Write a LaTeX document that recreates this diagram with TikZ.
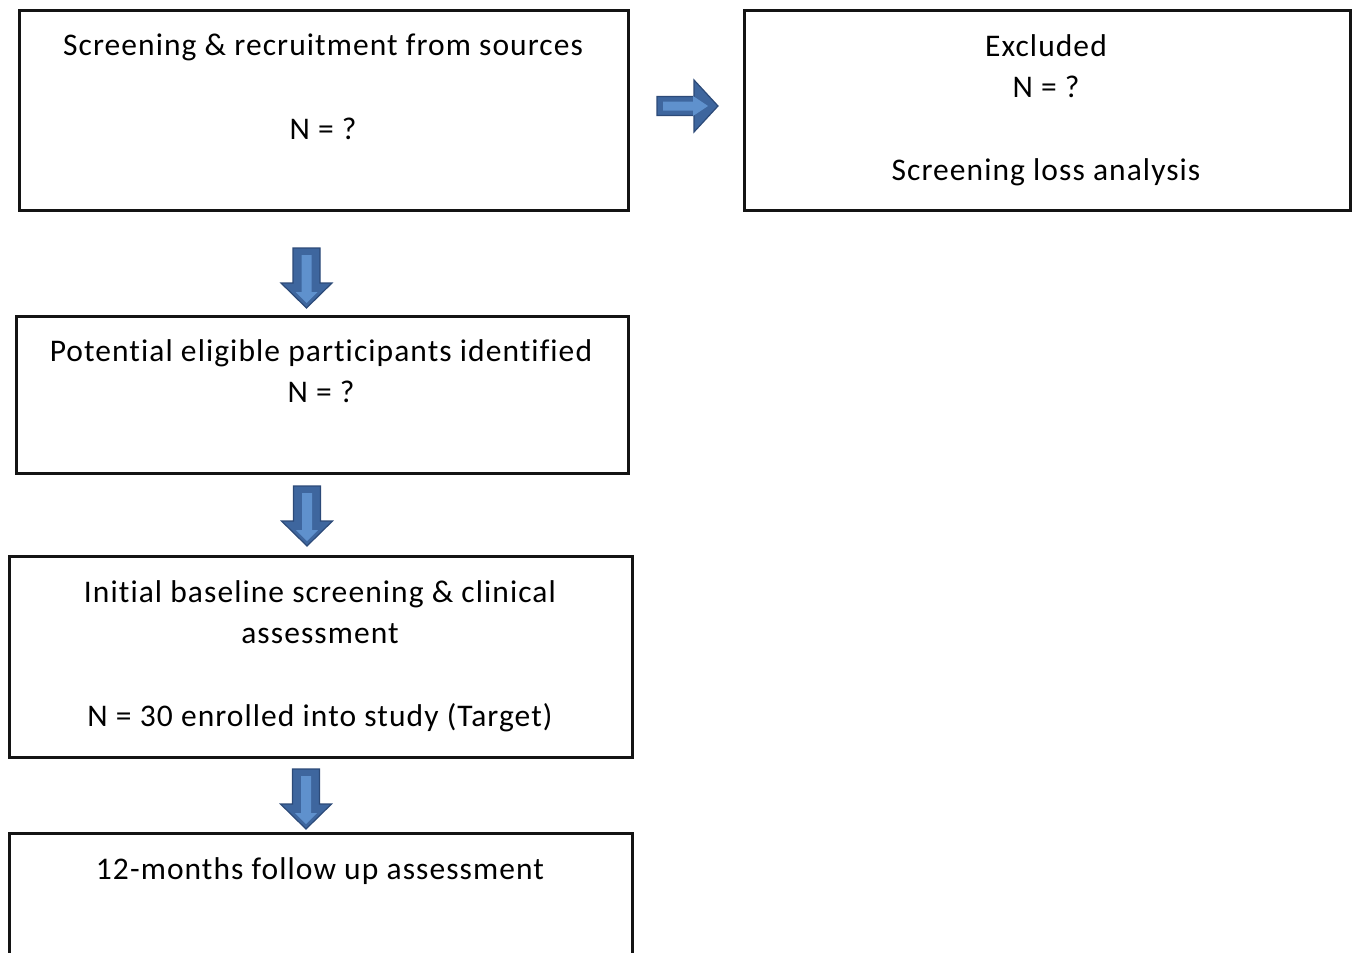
\documentclass[tikz,border=0pt]{standalone}
\usepackage{fontspec}
\setmainfont{Carlito}[Ligatures={NoCommon}, LetterSpace=3.4]
\definecolor{arrowdark}{RGB}{44,74,120}
\definecolor{arrowmid}{RGB}{62,102,158}
\definecolor{arrowlight}{RGB}{95,145,205}
\definecolor{boxline}{RGB}{20,20,20}
\tikzset{
  x=1pt, y=-1pt,
  box/.style={draw=boxline, line width=3pt, fill=white, rectangle, inner sep=0pt},
  txt/.style={font=\fontsize{31.5}{41}\selectfont, anchor=base, inner sep=0pt, text=black},
  rarrow/.pic={
    \fill[arrowmid, draw=arrowdark, line width=1.2pt]
      (0,-9.5) -- (37,-9.5) -- (37,-26) -- (61,0) -- (37,26) -- (37,9.5) -- (0,9.5) -- cycle;
    \fill[arrowlight]
      (6,-4.5) -- (36,-4.5) -- (36,-10) -- (51,0) -- (36,10) -- (36,4.5) -- (6,4.5) -- cycle;
  },
  darrow/.pic={
    \fill[arrowmid, draw=arrowdark, line width=1.2pt]
      (0,-13.5) -- (35,-13.5) -- (35,-25.5) -- (60,0) -- (35,25.5) -- (35,13.5) -- (0,13.5) -- cycle;
    \fill[arrowlight]
      (7,-5) -- (44,-5) -- (44,-11) -- (55,0) -- (44,11) -- (44,5) -- (7,5) -- cycle;
  }
}
\begin{document}
\begin{tikzpicture}
\useasboundingbox (0,0) rectangle (1352,953);
\clip (0,0) rectangle (1352,953);
% boxes
\node[box, minimum width=609pt, minimum height=200pt] (b1) at (323.5,110) {};
\node[box, minimum width=606pt, minimum height=200pt] (b2) at (1047,110) {};
\node[box, minimum width=612pt, minimum height=157pt] (b3) at (322,394.5) {};
\node[box, minimum width=623pt, minimum height=201pt] (b4) at (320.5,656.5) {};
\node[box, minimum width=623pt, minimum height=180pt] (b5) at (320.5,923) {};
% texts
\node[txt] (t1a) at (323,55) {Screening \& recruitment from sources};
\node[txt] (t1b) at (323,139) {N = ?};
\node[txt] (t2a) at (1046,56) {Excluded};
\node[txt] (t2b) at (1046,97) {N = ?};
\node[txt] (t2c) at (1046,180) {Screening loss analysis};
\node[txt] (t3a) at (321,361) {Potential eligible participants identified};
\node[txt] (t3b) at (321,402) {N = ?};
\node[txt] (t4a) at (320,602) {Initial baseline screening \& clinical};
\node[txt] (t4b) at (320,643) {assessment};
\node[txt] (t4c) at (320,726) {N = 30 enrolled into study (Target)};
\node[txt] (t5a) at (320,879) {12-months follow up assessment};
% block arrows
\coordinate (a1) at (657,106);
\coordinate (a2) at (306.5,248);
\coordinate (a3) at (307,486);
\coordinate (a4) at (306,769);
\pic[rotate=0] at (a1) {rarrow};
\pic[rotate=-90] at (a2) {darrow};
\pic[rotate=-90] at (a3) {darrow};
\pic[rotate=-90] at (a4) {darrow};
\end{tikzpicture}
\end{document}
